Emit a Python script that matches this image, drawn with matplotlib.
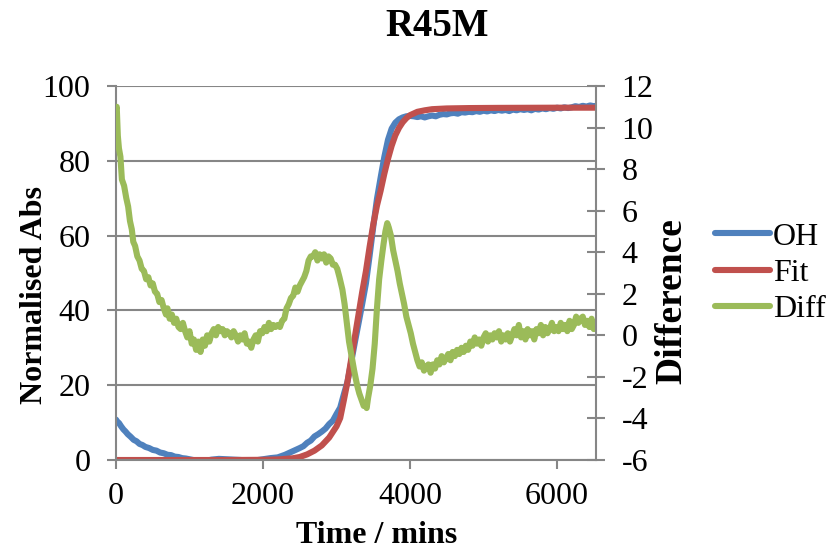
import matplotlib
matplotlib.use('Agg')
import matplotlib.pyplot as plt

# Colors (Excel 2007 defaults)
oh_color = '#4F81BD'
fit_color = '#C0504D'
diff_color = '#9BBB59'
grid_color = '#868686'

plt.rcParams['font.family'] = ['Liberation Serif', 'DejaVu Serif']
plt.rcParams['axes.unicode_minus'] = False

# OH (left axis)
oh_time = [0, 20, 40, 70, 100, 130, 160, 200, 240, 280, 320, 360, 400, 450, 500, 550,
           600, 650, 700, 750, 800, 850, 900, 950, 1000, 1100, 1200, 1300, 1400, 1500,
           1600, 1700, 1800, 1900, 2000, 2100, 2200, 2300, 2400, 2500, 2550, 2600, 2650,
           2700, 2750, 2800, 2850, 2900, 2950, 3000, 3050, 3100, 3150, 3200, 3250, 3300,
           3350, 3400, 3450, 3500, 3550, 3600, 3650, 3700, 3750, 3800, 3850, 3900, 3950,
           4000, 4050, 4100, 4150, 4200, 4250, 4300, 4350, 4400, 4450, 4500, 4550, 4600,
           4650, 4700, 4750, 4800, 4850, 4900, 4950, 5000, 5050, 5100, 5150, 5200, 5250,
           5300, 5350, 5400, 5450, 5500, 5550, 5600, 5650, 5700, 5750, 5800, 5850, 5900,
           5950, 6000, 6050, 6100, 6150, 6200, 6250, 6300, 6350, 6400, 6450, 6500, 6530]
oh_vals = [10.8, 10.2, 9.9, 9.0, 8.2, 7.6, 6.9, 6.2, 5.4, 5.0, 4.3, 4.0, 3.5, 3.2, 2.7, 2.5,
           2.0, 1.8, 1.4, 1.3, 0.9, 0.8, 0.5, 0.4, 0.2, -0.2, -0.3, 0.1, 0.3, 0.2,
           0.1, 0.0, -0.3, -0.1, 0.2, 0.5, 0.7, 1.4, 2.3, 3.2, 3.7, 4.6, 5.2,
           6.3, 6.9, 7.6, 8.4, 9.6, 10.5, 12.3, 14.0, 17.6, 21.0, 26.2, 31.5, 36.6,
           41.8, 47.2, 54.6, 62.4, 69.8, 75.5, 81.0, 85.6, 88.6, 90.2, 91.1, 91.6, 91.9,
           92.0, 91.9, 91.7, 91.9, 91.6, 91.9, 92.1, 91.9, 92.3, 92.5, 92.4, 92.7, 92.8,
           92.6, 93.0, 92.9, 93.1, 93.0, 93.3, 93.1, 93.4, 93.2, 93.5, 93.3, 93.6, 93.4,
           93.6, 93.3, 93.7, 93.5, 93.8, 93.6, 93.8, 93.5, 93.9, 93.7, 94.0, 93.8, 94.1,
           93.9, 94.2, 94.0, 94.3, 94.1, 94.3, 94.6, 94.4, 94.7, 94.5, 94.8, 94.6, 94.7]

# Fit (left axis)
fit_time = [0, 500, 1000, 1500, 2000, 2200, 2400, 2500, 2600, 2700, 2800, 2900, 3000,
            3050, 3100, 3150, 3200, 3250, 3300, 3350, 3400, 3450, 3500, 3550, 3600, 3650,
            3700, 3750, 3800, 3850, 3900, 3950, 4000, 4100, 4200, 4300, 4500, 4800, 5200,
            6000, 6530]
fit_vals = [0, 0, 0, 0, 0.05, 0.15, 0.45, 0.8, 1.5, 2.5, 3.9, 6.0, 9.0,
            11.2, 16.0, 21.0, 27.0, 33.0, 39.0, 45.0, 50.5, 57.0, 63.0, 68.0, 72.0, 76.5,
            80.5, 84.0, 86.8, 88.8, 90.3, 91.4, 92.2, 93.1, 93.5, 93.8, 94.0, 94.1, 94.15,
            94.2, 94.2]

# Diff (right axis)
diff_time = [0, 10, 25, 40, 60, 80, 110, 140, 165, 190, 215, 235, 260, 290, 320, 350,
             380, 410, 440, 470, 500, 530, 560, 590, 620, 650, 680, 700, 730, 760, 790,
             820, 850, 880, 910, 940, 970, 1000, 1030, 1060, 1090, 1120, 1150, 1180, 1210,
             1240, 1270, 1300, 1330, 1360, 1390, 1420, 1450, 1480, 1510, 1540, 1570, 1600,
             1630, 1660, 1690, 1720, 1750, 1780, 1810, 1840, 1870, 1900, 1930, 1960, 1990,
             2020, 2050, 2080, 2110, 2140, 2170, 2200, 2230, 2260, 2290, 2320, 2350, 2380,
             2410, 2440, 2470, 2500, 2530, 2560, 2590, 2620, 2650, 2680, 2710, 2740, 2770,
             2800, 2830, 2860, 2890, 2920, 2950, 2980, 3010, 3040, 3080, 3110, 3140, 3170,
             3200, 3240, 3280, 3310, 3340, 3370, 3390, 3410, 3430, 3460, 3490, 3520, 3550,
             3580, 3610, 3640, 3665, 3690, 3710, 3740, 3770, 3800, 3830, 3860, 3890, 3920,
             3950, 3980, 4010, 4040, 4070, 4100, 4130, 4160, 4190, 4220, 4250, 4280, 4310,
             4340, 4370, 4400, 4430, 4460, 4490, 4520, 4550, 4580, 4610, 4640, 4670, 4700,
             4730, 4760, 4790, 4820, 4850, 4880, 4910, 4940, 4970, 5000, 5030, 5060, 5090,
             5120, 5150, 5180, 5210, 5240, 5270, 5300, 5330, 5360, 5390, 5420, 5450, 5480,
             5510, 5540, 5570, 5600, 5630, 5660, 5690, 5720, 5750, 5780, 5810, 5840, 5870,
             5900, 5930, 5960, 5990, 6020, 6050, 6080, 6110, 6140, 6170, 6200, 6230, 6260,
             6290, 6320, 6350, 6380, 6410, 6440, 6470, 6500, 6530]
diff_vals = [10.9, 11.0, 9.6, 9.0, 8.6, 7.5, 7.2, 6.6, 6.2, 5.5, 5.1, 4.5, 4.3, 3.8, 3.6, 3.2,
             3.1, 2.7, 2.8, 2.4, 2.5, 2.1, 2.0, 1.6, 1.7, 1.3, 1.0, 1.3, 0.8, 1.0, 0.6,
             0.8, 0.4, 0.3, 0.6, 0.2, -0.1, 0.2, -0.4, -0.2, -0.7, -0.3, -0.8, -0.2, -0.5,
             0.0, -0.3, 0.1, 0.3, 0.0, 0.4, 0.2, 0.3, 0.0, 0.2, 0.1, -0.1, 0.2,
             0.0, -0.3, 0.0, -0.2, 0.1, -0.4, -0.3, -0.6, -0.2, 0.0, -0.3, 0.2, 0.1,
             0.4, 0.2, 0.6, 0.3, 0.5, 0.4, 0.5, 0.4, 0.7, 0.8, 1.3, 1.5, 1.8,
             1.9, 2.3, 2.1, 2.4, 2.6, 2.8, 3.1, 3.6, 3.8, 3.8, 4.0, 3.6, 3.9,
             3.7, 3.9, 3.5, 3.8, 3.7, 3.4, 3.4, 3.2, 2.8, 2.2, 1.5, 0.6, -0.3,
             -0.9, -1.7, -2.4, -2.8, -3.1, -3.4, -3.3, -3.5, -3.0, -2.4, -1.6, -0.4, 1.3,
             2.7, 3.6, 4.4, 5.0, 5.4, 5.2, 4.8, 4.1, 3.6, 3.1, 2.5, 2.0, 1.5,
             0.9, 0.5, 0.1, -0.4, -0.8, -1.2, -1.5, -1.3, -1.7, -1.5, -1.4, -1.8, -1.4,
             -1.6, -1.2, -1.4, -1.0, -1.3, -1.1, -0.9, -1.2, -0.8, -1.0, -0.7, -0.9, -0.6,
             -0.8, -0.5, -0.7, -0.3, -0.5, -0.1, -0.4, -0.2, -0.5, -0.1, 0.1, -0.3, 0.0,
             -0.2, 0.1, -0.1, 0.2, -0.3, 0.0, -0.2, 0.1, -0.3, 0.0, 0.3, 0.0, 0.5,
             -0.1, 0.2, -0.2, 0.3, 0.0, 0.2, -0.2, 0.3, 0.1, 0.5, 0.0, 0.4, 0.1,
             0.3, 0.6, 0.2, 0.4, 0.2, 0.6, 0.3, 0.5, 0.2, 0.7, 0.3, 0.5, 0.9,
             0.6, 0.8, 0.9, 0.5, 0.7, 0.4, 0.8, 0.3, 0.4]

x_ticks = [0, 2000, 4000, 6000]
left_ticks = [0, 20, 40, 60, 80, 100]
right_ticks = [-6, -4, -2, 0, 2, 4, 6, 8, 10, 12]

fs = 23
lw = 4.4

fig = plt.figure(figsize=(8.31, 5.51), dpi=100)
ax = fig.add_axes([116 / 831, 1 - 460 / 551, 480 / 831, 374 / 551])
ax2 = ax.twinx()

l1, = ax.plot(oh_time, oh_vals, color=oh_color, lw=lw, solid_capstyle='round', label='OH')
l2, = ax.plot(fit_time, fit_vals, color=fit_color, lw=lw, solid_capstyle='round', label='Fit')
l3, = ax2.plot(diff_time, diff_vals, color=diff_color, lw=lw, solid_capstyle='round',
               solid_joinstyle='round', label='Diff')

ax.set_xlim(0, 6530)
ax.set_ylim(0, 100)
ax2.set_ylim(-6, 12)
ax.set_xticks(x_ticks)
ax.set_yticks(left_ticks)
ax2.set_yticks(right_ticks)

ax.grid(axis='y', color=grid_color, lw=1.5)
ax.set_axisbelow(True)

for a in (ax, ax2):
    for s in a.spines.values():
        s.set_color(grid_color)
        s.set_linewidth(1.5)
    a.spines['top'].set_visible(False)
ax.spines['right'].set_visible(False)
ax2.spines['left'].set_visible(False)
ax2.spines['bottom'].set_visible(False)

ax.tick_params(axis='y', labelsize=fs, color=grid_color, width=1.5, length=6.5, pad=12)
ax.tick_params(axis='x', labelsize=fs, color=grid_color, width=1.5, length=6.5, pad=9)
ax2.tick_params(axis='y', labelsize=fs, color=grid_color, width=1.5, length=13,
                direction='inout', pad=12)

# Axis titles placed like the Excel chart
ax.set_xlabel('Time / mins', fontsize=fs, fontweight='bold')
ax.xaxis.label.set_va('baseline')
ax.xaxis.set_label_coords(0.542, (460 - 543) / 374)

ax.set_ylabel('Normalised Abs', fontsize=fs, fontweight='bold')
ax.yaxis.set_label_coords((49 - 116) / 480, (460 - 295) / 374)

ax2.set_ylabel('Difference', fontsize=27, fontweight='bold')
ax2.yaxis.set_label_coords((654 - 116) / 480, (460 - 301) / 374)

fig.text(437 / 831, 1 - 26 / 551, 'R45M', fontsize=28, fontweight='bold',
         ha='center', va='center')

fig.legend(handles=[l1, l2, l3], loc='center left', bbox_to_anchor=(715 / 831, 1 - 273 / 551),
           frameon=False, fontsize=fs, handlelength=1.72, handletextpad=0.1,
           labelspacing=0.21, borderaxespad=0, borderpad=0)

fig.savefig('out.png', dpi=100)
